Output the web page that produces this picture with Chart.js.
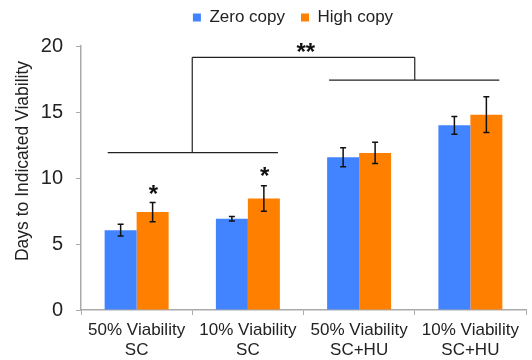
<!DOCTYPE html>
<html>
<head>
<meta charset="utf-8">
<script src="https://cdn.jsdelivr.net/npm/chart.js@4"></script>
<style>
  html, body { margin: 0; padding: 0; background: #fff; }
  #wrap { width: 532px; height: 360px; }
</style>
</head>
<body>
<div id="wrap"><canvas id="chart" width="532" height="360"></canvas></div>
<script>
// dữ liệu của biểu đồ
const categories = [['50% Viability', 'SC'], ['10% Viability', 'SC'], ['50% Viability', 'SC+HU'], ['10% Viability', 'SC+HU']];
const zeroCopy = [6.05, 6.92, 11.57, 13.99];
const zeroCopyErr = [0.45, 0.17, 0.72, 0.67];
const highCopy = [7.42, 8.45, 11.9, 14.8];
const highCopyErr = [0.73, 0.96, 0.8, 1.35];
const yTicks = [0, 5, 10, 15, 20];
const yTitle = 'Days to Indicated Viability';

// dấu sao: [vị trí danh mục, giá trị y, nhãn]
const starMarks = [[0.15, 9.1, '*'], [1.15, 10.4, '*'], [1.52, 19.85, '**']];
// ngoặc so sánh: [x trái, x phải, y]
const bracketLines = [[-0.26, 1.27, 11.92], [1.73, 3.26, 17.42], [0.5, 2.5, 19.14]];
// đường dọc: [x, y dưới, y trên]
const bracketStems = [[0.5, 11.92, 19.14], [2.5, 17.42, 19.14]];

const FONT = '"Liberation Sans", Arial, sans-serif';

// chỉnh chiều cao và vị trí chú giải
const legendFix = {
    id: 'legendFix',
    beforeLayout(chart) {
        const lg = chart.legend;
        if (lg && !lg._patched) {
            const fit = lg.fit.bind(lg);
            lg.fit = function () { fit(); this.height = 46; };
            lg._patched = true;
        }
    },
    afterLayout(chart) {
        const lg = chart.legend;
        if (lg) {
            lg.left += 30; lg.right += 30;
            lg.top -= 7; lg.bottom -= 7;
        }
    }
};

// plugin vẽ thanh sai số và chú thích
const annotate = {
    id: 'annotate',
    afterDatasetsDraw(chart) {
        const ctx = chart.ctx;
        const xs = chart.scales.x, ys = chart.scales.y;
        const errs = [zeroCopyErr, highCopyErr];
        ctx.save();
        ctx.strokeStyle = '#111';
        ctx.lineWidth = 1.5;
        chart.data.datasets.forEach((ds, i) => {
            const meta = chart.getDatasetMeta(i);
            meta.data.forEach((bar, j) => {
                const v = ds.data[j], e = errs[i][j];
                const top = ys.getPixelForValue(v + e);
                const bot = ys.getPixelForValue(v - e);
                ctx.beginPath();
                ctx.moveTo(bar.x, top); ctx.lineTo(bar.x, bot);
                ctx.moveTo(bar.x - 3, top); ctx.lineTo(bar.x + 3, top);
                ctx.moveTo(bar.x - 3, bot); ctx.lineTo(bar.x + 3, bot);
                ctx.stroke();
            });
        });

        // chuyển vị trí danh mục sang pixel
        const px = c => xs.getPixelForValue(0) + c * (xs.getPixelForValue(1) - xs.getPixelForValue(0));
        ctx.lineWidth = 1.2;
        ctx.strokeStyle = '#222';
        bracketLines.forEach(([a, b, y]) => {
            ctx.beginPath();
            ctx.moveTo(px(a), ys.getPixelForValue(y));
            ctx.lineTo(px(b), ys.getPixelForValue(y));
            ctx.stroke();
        });
        bracketStems.forEach(([x, y0, y1]) => {
            ctx.beginPath();
            ctx.moveTo(px(x), ys.getPixelForValue(y0));
            ctx.lineTo(px(x), ys.getPixelForValue(y1));
            ctx.stroke();
        });

        ctx.fillStyle = '#111';
        ctx.font = 'bold 24px ' + FONT;
        ctx.textAlign = 'center';
        ctx.textBaseline = 'middle';
        starMarks.forEach(([x, y, t]) => {
            ctx.fillText(t, px(x), ys.getPixelForValue(y) + 5);
        });

        // tiêu đề trục y
        const area = chart.chartArea;
        ctx.translate(23, (area.top + area.bottom) / 2 - 17);
        ctx.rotate(-Math.PI / 2);
        ctx.fillStyle = '#222';
        ctx.font = '17.5px ' + FONT;
        ctx.fillText(yTitle, 0, 0);
        ctx.restore();
    }
};

Chart.defaults.font.family = FONT;
Chart.defaults.color = '#222';

new Chart(document.getElementById('chart'), {
    type: 'bar',
    data: {
        labels: categories,
        datasets: [
            { label: 'Zero copy', data: zeroCopy, backgroundColor: '#4283ff' },
            { label: 'High copy', data: highCopy, backgroundColor: '#ff7f00' }
        ]
    },
    options: {
        responsive: false,
        animation: false,
        layout: { padding: { left: 0, right: 6, top: 0, bottom: 0 } },
        datasets: { bar: { categoryPercentage: 0.575, barPercentage: 1 } },
        plugins: {
            legend: {
                position: 'top',
                labels: {
                    boxWidth: 8, boxHeight: 8, padding: 16,
                    font: { size: 17 }, color: '#222'
                }
            },
            tooltip: { enabled: false }
        },
        scales: {
            x: {
                grid: { offset: true, drawOnChartArea: false, tickLength: 5, color: '#aaa' },
                border: { color: '#aaa', width: 1.5 },
                ticks: { font: { size: 17 }, color: '#222', maxRotation: 0, padding: 5 },
                afterFit: s => { s.height = 50; }
            },
            y: {
                min: 0, max: 20,
                afterBuildTicks: s => { s.ticks = yTicks.map(v => ({ value: v })); },
                grid: { drawOnChartArea: false, tickLength: 5, color: '#aaa' },
                border: { color: '#aaa', width: 1.5 },
                ticks: { font: { size: 20 }, color: '#222', padding: 13 },
                afterFit: s => { s.width = 81; }
            }
        }
    },
    plugins: [legendFix, annotate]
});
</script>
</body>
</html>
